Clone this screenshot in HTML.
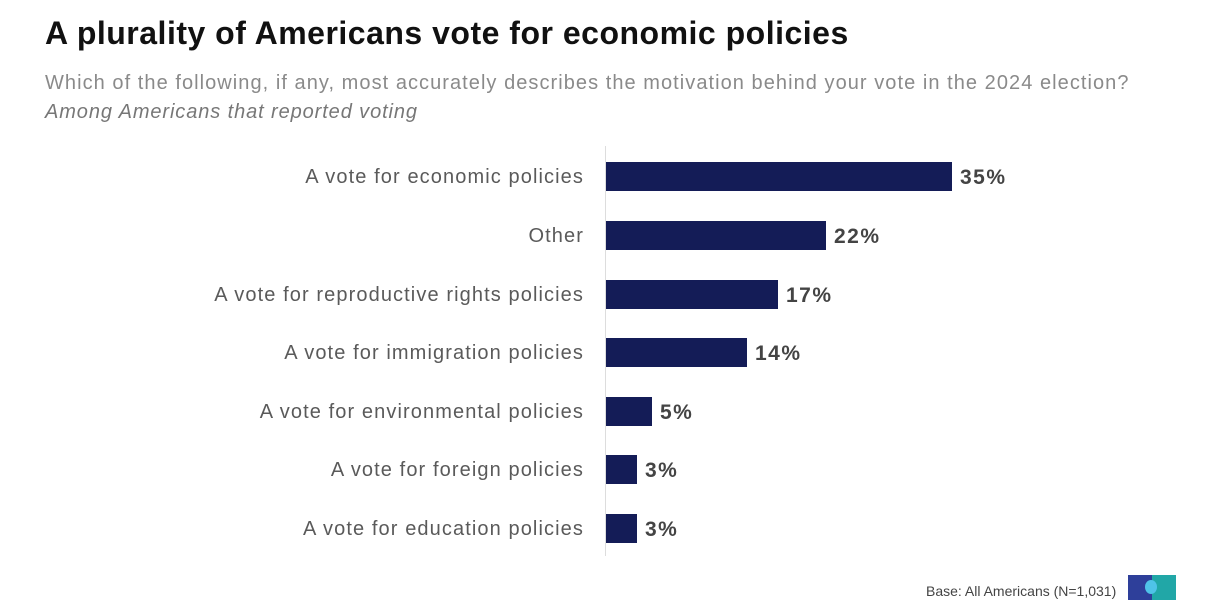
<!DOCTYPE html>
<html><head><meta charset="utf-8"><style>
body{margin:0;width:1220px;height:600px;background:#fff;font-family:"Liberation Sans",sans-serif;position:relative;overflow:hidden}
.a{position:absolute;white-space:nowrap}
.t{left:45px;top:15px;font-size:32px;font-weight:bold;color:#111;letter-spacing:0.5px}
.s{left:45px;top:72px;font-size:20px;color:#8a8a8a;letter-spacing:1.05px}
.i{left:45px;top:101px;font-size:20px;color:#777;font-style:italic;letter-spacing:0.9px}
.l{right:636px;font-size:20px;color:#5a5a5a;line-height:24px;letter-spacing:1.1px}
.b{position:absolute;left:606px;height:29px;background:#141c57}
.v{font-size:21px;font-weight:bold;color:#444;line-height:24px;letter-spacing:1.5px}
</style></head><body>
<div class="a t">A plurality of Americans vote for economic policies</div>
<div class="a s">Which of the following, if any, most accurately describes the motivation behind your vote in the 2024 election?</div>
<div class="a i">Among Americans that reported voting</div>
<div style="position:absolute;left:605px;top:146px;width:1px;height:410px;background:#ddd"></div>

<div class="a l" style="top:165px">A vote for economic policies</div>
<div class="b" style="top:162px;width:346px"></div><div class="a v" style="left:960px;top:166px">35%</div>

<div class="a l" style="top:224px">Other</div>
<div class="b" style="top:221px;width:220px"></div><div class="a v" style="left:834px;top:225px">22%</div>

<div class="a l" style="top:283px">A vote for reproductive rights policies</div>
<div class="b" style="top:280px;width:172px"></div><div class="a v" style="left:786px;top:284px">17%</div>

<div class="a l" style="top:341px">A vote for immigration policies</div>
<div class="b" style="top:338px;width:141px"></div><div class="a v" style="left:755px;top:342px">14%</div>

<div class="a l" style="top:400px">A vote for environmental policies</div>
<div class="b" style="top:397px;width:46px"></div><div class="a v" style="left:660px;top:401px">5%</div>

<div class="a l" style="top:458px">A vote for foreign policies</div>
<div class="b" style="top:455px;width:31px"></div><div class="a v" style="left:645px;top:459px">3%</div>

<div class="a l" style="top:517px">A vote for education policies</div>
<div class="b" style="top:514px;width:31px"></div><div class="a v" style="left:645px;top:518px">3%</div>

<div class="a" style="left:926px;top:583px;font-size:14px;color:#444">Base: All Americans (N=1,031)</div>
<div style="position:absolute;left:1128px;top:575px;width:24px;height:25px;background:#2e3f9a"></div>
<div style="position:absolute;left:1152px;top:575px;width:24px;height:25px;background:#21a7a7"></div>
<div style="position:absolute;left:1145px;top:580px;width:12px;height:14px;border-radius:50%;background:#4fc3e8"></div>
</body></html>
